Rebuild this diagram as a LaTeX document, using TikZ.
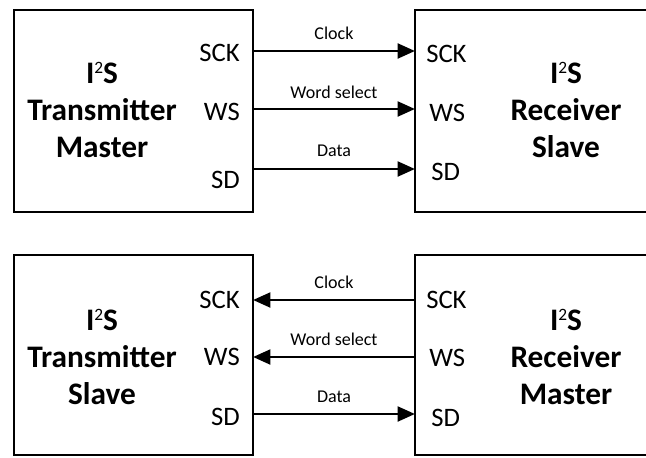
\documentclass[tikz,border=0pt]{standalone}
\usepackage{fontspec}
\setmainfont{Carlito}
\usetikzlibrary{arrows.meta}

\newcommand{\isq}{I\raisebox{0.3em}{\fontsize{13}{13}\selectfont\mdseries 2}S}

\tikzset{
    box/.style={draw, line width=2pt, inner sep=0pt},
    title/.style={font=\fontsize{23.5}{27.75}\selectfont\bfseries, align=center},
    port/.style={font=\fontsize{20}{24}\selectfont, inner sep=0pt},
    signal/.style={font=\fontsize{13.5}{15}\selectfont, inner sep=0pt},
    wire/.style={line width=2.2pt, -{Triangle[length=13pt, width=11pt]}}
}

\begin{document}
\begin{tikzpicture}[x=0.75pt, y=-0.75pt]
            \useasboundingbox (0, 0) rectangle (646, 457);
            \clip (0, 0) rectangle (646, 457);

            % Boxes
            \node[box, minimum width=179.25pt, minimum height=151.5pt] (txm) at (133.5, 111) {};
            \node[box, minimum width=213.75pt, minimum height=151.5pt] (rxs) at (557.5, 111) {};
            \node[box, minimum width=179.25pt, minimum height=150pt] (txs) at (133.5, 355) {};
            \node[box, minimum width=213.75pt, minimum height=150pt] (rxm) at (557.5, 355) {};

            % Titles
            \node[title] (txm-title) at (102, 110) {\isq\\Transmitter\\Master};
            \node[title] (rxs-title) at (566, 110) {\isq\\Receiver\\Slave};
            \node[title] (txs-title) at (102, 357) {\isq\\Transmitter\\Slave};
            \node[title] (rxm-title) at (566, 357) {\isq\\Receiver\\Master};

            % Ports
            \node[port, anchor=east] (txm-sck) at (240, 53) {SCK};
            \node[port, anchor=east] (txm-ws) at (240, 112) {WS};
            \node[port, anchor=east] (txm-sd) at (240, 180) {SD};
            \node[port, anchor=west] (rxs-sck) at (426, 54) {SCK};
            \node[port, anchor=west] (rxs-ws) at (429, 113) {WS};
            \node[port, anchor=west] (rxs-sd) at (431, 172) {SD};

            \node[port, anchor=east] (txs-sck) at (240, 300) {SCK};
            \node[port, anchor=east] (txs-ws) at (240, 357) {WS};
            \node[port, anchor=east] (txs-sd) at (240, 417) {SD};
            \node[port, anchor=west] (rxm-sck) at (426, 300) {SCK};
            \node[port, anchor=west] (rxm-ws) at (429, 358) {WS};
            \node[port, anchor=west] (rxm-sd) at (431, 418) {SD};

            % Wire ends
            \coordinate (a1) at (253, 51);
            \coordinate (b1) at (415, 51);
            \coordinate (a2) at (253, 109);
            \coordinate (b2) at (415, 109);
            \coordinate (a3) at (253, 169);
            \coordinate (b3) at (415, 169);
            \coordinate (c1) at (253, 300);
            \coordinate (d1) at (415, 300);
            \coordinate (c2) at (253, 357);
            \coordinate (d2) at (415, 357);
            \coordinate (c3) at (253, 414);
            \coordinate (d3) at (415, 414);

            % Wires
            \draw[wire] (a1) -- (b1);
            \draw[wire] (a2) -- (b2);
            \draw[wire] (a3) -- (b3);
            \draw[wire] (d1) -- (c1);
            \draw[wire] (d2) -- (c2);
            \draw[wire] (c3) -- (d3);

            % Signal names
            \node[signal] (clk1) at (334, 33) {Clock};
            \node[signal] (wsel1) at (334, 92) {Word select};
            \node[signal] (dat1) at (334, 151) {Data};
            \node[signal] (clk2) at (334, 282) {Clock};
            \node[signal] (wsel2) at (334, 339) {Word select};
            \node[signal] (dat2) at (334, 397) {Data};
\end{tikzpicture}
\end{document}
